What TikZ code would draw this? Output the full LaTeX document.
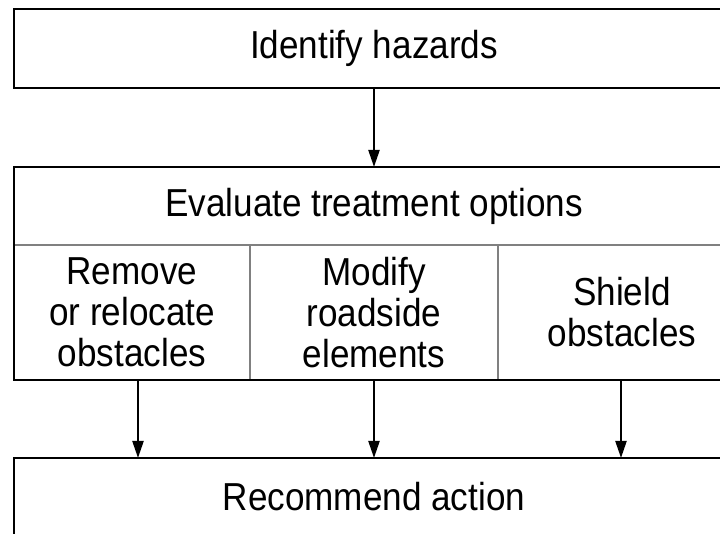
\documentclass[tikz,border=0pt]{standalone}
\usepackage{fontspec}
\setmainfont[FakeStretch=0.9]{Liberation Sans}
\usetikzlibrary{arrows.meta,calc}
\begin{document}
\begin{tikzpicture}[x=1pt,y=1pt,
  box/.style={draw=black,line width=1.7pt},
  cell/.style={inner sep=0pt,outer sep=0pt,align=center,font=\fontsize{39}{41}\selectfont},
  divider/.style={draw=gray,line width=1.7pt},
  arr/.style={draw=black,line width=2.2pt,-{Triangle[length=17pt,width=11pt]}}]
\useasboundingbox (0,0) rectangle (720,534);
\clip (0,0) rectangle (720,534);
\fill[white] (0,0) rectangle (720,534);
% top box
\node[cell,box,minimum width=720pt,minimum height=79pt] (ident) at (374,485.5) {Identify hazards};
% middle box
\node[cell,minimum width=720pt,minimum height=213pt] (mid) at (374,260.5) {};
\node[cell,minimum width=720pt,minimum height=78pt] (evt) at (374,328) {Evaluate treatment options};
\node[cell,minimum width=236pt,minimum height=135pt] (c1) at (132,221.5) {Remove\\or relocate\\obstacles};
\node[cell,minimum width=248pt,minimum height=135pt] (c2) at (374,221.5) {Modify\\roadside\\elements};
\node[cell,minimum width=248pt,minimum height=135pt] (c3) at (622,221.5) {Shield\\obstacles};
\draw[divider] (evt.south west) -- (evt.south east);
\draw[divider] (c1.north east) -- (c1.south east);
\draw[divider] (c2.north east) -- (c2.south east);
\draw[box] (mid.south west) rectangle (mid.north east);
% bottom box
\node[cell,box,minimum width=720pt,minimum height=78pt] (rec) at (374,37) {Recommend action};
% arrows
\draw[arr] (ident.south) -- (mid.north);
\draw[arr] ([xshift=6pt]c1.south) -- ([xshift=6pt]c1.south |- rec.north);
\draw[arr] (c2.south) -- (c2.south |- rec.north);
\draw[arr] ([xshift=-1pt]c3.south) -- ([xshift=-1pt]c3.south |- rec.north);
\end{tikzpicture}
\end{document}
